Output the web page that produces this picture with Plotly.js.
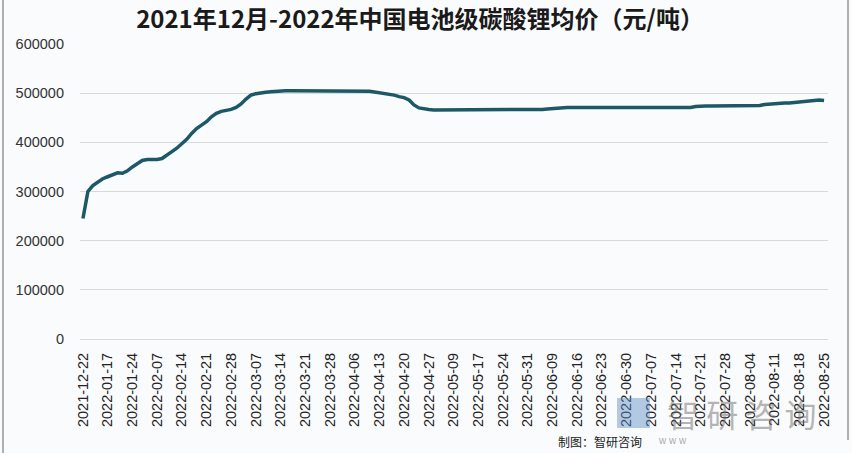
<!DOCTYPE html>
<html>
<head>
<meta charset="utf-8">
<script src="https://cdn.plot.ly/plotly-3.0.1.min.js"></script>
<style>
  html, body { margin: 0; padding: 0; background: #ffffff; }
  #chart { width: 852px; height: 453px; }
</style>
</head>
<body>
<div id="chart"></div>
<script>
// Weekly tick labels (category axis shows only these)
const tickLabels = [
  "2021-12-22", "2022-01-17", "2022-01-24", "2022-02-07", "2022-02-14", "2022-02-21",
  "2022-02-28", "2022-03-07", "2022-03-14", "2022-03-21", "2022-03-28", "2022-04-06",
  "2022-04-13", "2022-04-20", "2022-04-27", "2022-05-09", "2022-05-17", "2022-05-24",
  "2022-05-31", "2022-06-09", "2022-06-16", "2022-06-23", "2022-06-30", "2022-07-07",
  "2022-07-14", "2022-07-21", "2022-07-28", "2022-08-04", "2022-08-11", "2022-08-18",
  "2022-08-25"
];

// Average price of battery-grade lithium carbonate (yuan/ton), one value per trading day,
// five per labelled week (label day + the next four trading days)
const price = [
  245000, 300000, 312000, 320000, 326000,   // 2021-12-22
  330000, 334000, 338000, 337000, 342000,   // 2022-01-17
  350000, 357000, 363000, 365000, 365000,   // 2022-01-24
  365000, 367000, 375000, 381000, 388000,   // 2022-02-07
  396000, 406000, 418000, 428000, 435000,   // 2022-02-14
  442000, 452000, 459000, 463000, 465000,   // 2022-02-21
  467000, 471000, 478000, 488000, 496000,   // 2022-02-28
  499000, 501000, 502000, 503000, 504000,   // 2022-03-07
  505000, 505000, 505000, 505000, 505000,   // 2022-03-14
  505000, 505000, 505000, 505000, 505000,   // 2022-03-21
  505000, 505000, 505000, 505000, 505000,   // 2022-03-28
  505000, 505000, 505000, 504000, 502500,   // 2022-04-06
  501000, 499000, 497000, 496000, 493000,   // 2022-04-13
  491000, 486000, 476000, 470000, 468000,   // 2022-04-20
  467000, 466000, 466000, 466000, 466000,   // 2022-04-27
  466000, 466000, 466000, 466000, 466000,   // 2022-05-09
  466000, 466000, 466000, 466000, 466000,   // 2022-05-17
  466000, 466000, 466000, 466000, 466000,   // 2022-05-24
  466000, 466000, 466000, 467000, 468000,   // 2022-05-31
  469000, 470000, 471000, 471000, 471000,   // 2022-06-09
  471000, 471000, 471000, 471000, 471000,   // 2022-06-16
  471000, 471000, 471000, 471000, 471000,   // 2022-06-23
  471000, 471000, 471000, 471000, 471000,   // 2022-06-30
  471000, 471000, 471000, 471000, 471000,   // 2022-07-07
  471000, 471000, 471000, 471000, 473000,   // 2022-07-14
  474000, 474000, 474000, 474000, 474000,   // 2022-07-21
  474000, 474000, 474000, 474000, 474000,   // 2022-07-28
  474000, 474000, 475000, 477000, 478000,   // 2022-08-04
  479000, 480000, 480000, 480000, 481000,   // 2022-08-11
  481000, 482000, 484000, 485000, 486000,   // 2022-08-18
  485000                                    // 2022-08-25
];

const yTicks = [0, 100000, 200000, 300000, 400000, 500000, 600000];

// Build the trading-day categories: each label plus the next four weekdays
function nextWeekday(s) {
  const d = new Date(s + "T00:00:00Z");
  do { d.setUTCDate(d.getUTCDate() + 1); } while (d.getUTCDay() === 0 || d.getUTCDay() === 6);
  return d.toISOString().slice(0, 10);
}
const dates = [];
tickLabels.forEach((lab, k) => {
  dates.push(lab);
  if (k < tickLabels.length - 1) {
    let d = lab;
    for (let j = 0; j < 4; j++) { d = nextWeekday(d); dates.push(d); }
  }
});

const trace = {
  type: "scatter",
  mode: "lines",
  x: dates,
  y: price,
  line: { color: "#1d5868", width: 3.5 },
  hoverinfo: "x+y"
};

// helpers to place decorations relative to the plot area (layout positions only)
const L = 80, R = 24, T = 44, B = 114, W = 852, H = 453;
const pw = W - L - R, ph = H - T - B;
const px = v => (v - L) / pw;
const py = v => (H - B - v) / ph;

const layout = {
  width: W, height: H,
  margin: { l: L, r: R, t: T, b: B, pad: 0 },
  paper_bgcolor: "#fafbfc",
  plot_bgcolor: "#fafbfc",
  showlegend: false,
  title: {
    text: "2021年12月-2022年中国电池级碳酸锂均价（元/吨）",
    font: { family: "Noto Sans CJK SC, sans-serif", size: 24, color: "#1a1a1a", weight: "bold" },
    x: 0.493, xref: "container", xanchor: "center",
    y: 0.957, yref: "container", yanchor: "middle"
  },
  xaxis: {
    type: "category",
    range: [-0.6, 150.8],
    tickmode: "array",
    tickvals: tickLabels,
    ticktext: tickLabels,
    tickangle: -90,
    ticks: "",
    showgrid: false,
    zeroline: false,
    showline: false,
    ticklabelstandoff: 10,
    tickfont: { family: "Liberation Sans, sans-serif", size: 14.5, color: "#222222" }
  },
  yaxis: {
    range: [0, 600000],
    tickmode: "array",
    tickvals: yTicks,
    ticktext: yTicks.map(String),
    ticks: "",
    showgrid: true,
    gridcolor: "#d9d9d9",
    gridwidth: 1,
    zeroline: true,
    zerolinecolor: "#d9d9d9",
    zerolinewidth: 1,
    showline: false,
    ticklabelstandoff: 15,
    tickfont: { family: "Liberation Sans, sans-serif", size: 14.5, color: "#333333" }
  },
  shapes: [
    { type: "line", xref: "paper", yref: "paper", x0: px(3), x1: px(3), y0: py(0), y1: py(453),
      line: { color: "#b0b0b0", width: 2 } },
    { type: "line", xref: "paper", yref: "paper", x0: px(848), x1: px(848), y0: py(0), y1: py(440),
      line: { color: "#b0b0b0", width: 2 } },
    { type: "rect", xref: "paper", yref: "paper", x0: px(617), x1: px(650), y0: py(428), y1: py(398),
      fillcolor: "rgba(90,140,200,0.45)", line: { width: 0 } }
  ],
  annotations: [
    { text: "智\u00a0研\u00a0咨\u00a0询", xref: "paper", yref: "paper", x: px(742), y: py(413),
      xanchor: "center", yanchor: "middle", showarrow: false,
      font: { family: "Noto Sans CJK SC, sans-serif", size: 32, color: "rgba(110,110,110,0.5)" } },
    { text: "w w w", xref: "paper", yref: "paper", x: px(672), y: py(440),
      xanchor: "center", yanchor: "middle", showarrow: false,
      font: { family: "Liberation Sans, sans-serif", size: 10, color: "rgba(110,110,110,0.6)" } },
    { text: "制图：智研咨询", xref: "paper", yref: "paper", x: px(600), y: py(452),
      xanchor: "center", yanchor: "bottom", showarrow: false,
      font: { family: "Noto Sans CJK SC, sans-serif", size: 12, color: "#222222" } }
  ]
};

Plotly.newPlot("chart", [trace], layout, { displayModeBar: false, staticPlot: true });
</script>
</body>
</html>
